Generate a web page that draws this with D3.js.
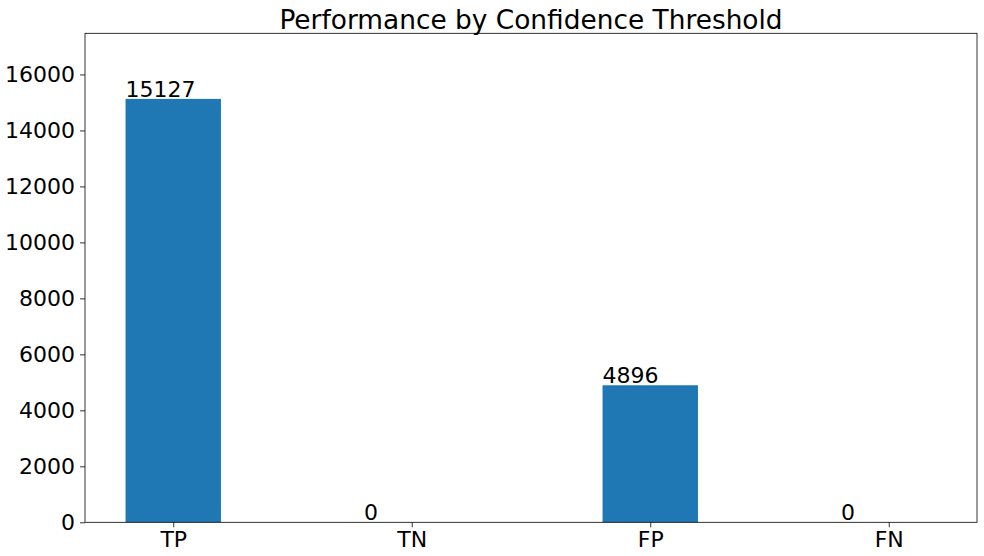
<!DOCTYPE html>
<html><head><meta charset="utf-8">
<script src="https://cdn.jsdelivr.net/npm/d3@7"></script>
<style>body{margin:0;background:#fff}svg{display:block}text{font-family:"DejaVu Sans",sans-serif;fill:#000}</style>
</head><body>
<script>
const categories = ["TP","TN","FP","FN"];
const values = [15127, 0, 4896, 0];
const yTicks = [0,2000,4000,6000,8000,10000,12000,14000,16000];
const title = "Performance by Confidence Threshold";

const W = 984, H = 556;
const m = {left:85, top:33.3, right:977, bottom:522.3};
const svg = d3.select("body").append("svg").attr("width",W).attr("height",H);

const x = d3.scaleLinear().domain([-0.37, 3.37]).range([m.left, m.right]);
const y = d3.scaleLinear().domain([0, 17470]).range([m.bottom, m.top]);
const bw = 0.4;

svg.selectAll("rect.bar").data(values).enter().append("rect")
  .attr("x",(d,i)=>x(i-bw/2)).attr("width",(d,i)=>x(i+bw/2)-x(i-bw/2))
  .attr("y",d=>y(d)).attr("height",d=>y(0)-y(d)).attr("fill","#1f77b4");

svg.selectAll("text.lab").data(values).enter().append("text")
  .attr("x",(d,i)=>x(i-bw/2)).attr("y",d=>y(d)-2)
  .attr("font-size",22).text(d=>d);

const yAxis = d3.axisLeft(y).tickValues(yTicks).tickSize(5).tickPadding(5).tickFormat(d3.format("d"));
const gy = svg.append("g").attr("transform",`translate(${m.left},0)`).call(yAxis);
gy.select(".domain").remove();
gy.selectAll("text").attr("font-size",22).attr("font-family","DejaVu Sans").attr("fill","#000");
gy.selectAll("line").attr("stroke","#000").attr("stroke-width",0.8);

const xAxis = d3.axisBottom(x).tickValues(d3.range(categories.length)).tickFormat(i=>categories[i]).tickSize(5).tickPadding(4);
const gx = svg.append("g").attr("transform",`translate(0,${m.bottom})`).call(xAxis);
gx.select(".domain").remove();
gx.selectAll("text").attr("font-size",22).attr("font-family","DejaVu Sans").attr("fill","#000");
gx.selectAll("line").attr("stroke","#000").attr("stroke-width",0.8);

svg.append("rect").attr("x",m.left).attr("y",m.top).attr("width",m.right-m.left).attr("height",m.bottom-m.top)
  .attr("fill","none").attr("stroke","#000").attr("stroke-width",0.8);

svg.append("text").attr("x",(m.left+m.right)/2).attr("y",28.5).attr("text-anchor","middle")
  .attr("font-size",26.4).text(title);
</script>
</body></html>
